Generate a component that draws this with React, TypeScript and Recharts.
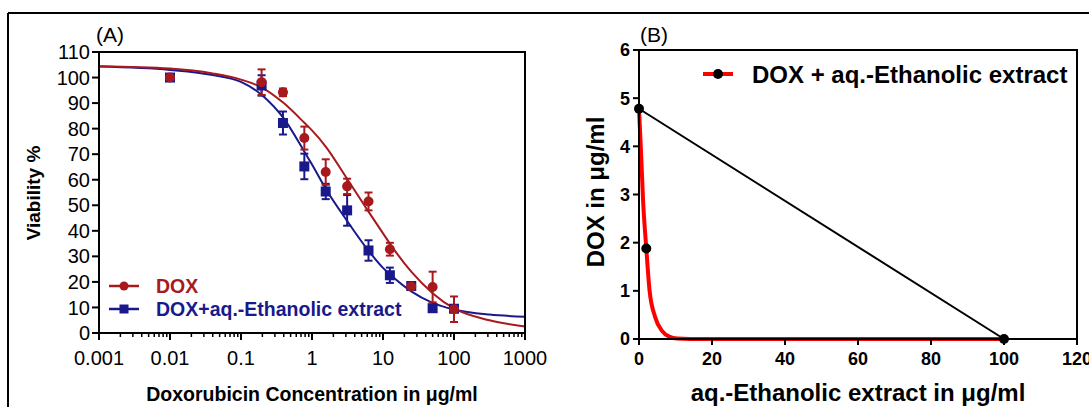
import React from "react";
import {
  ComposedChart,
  Line,
  Scatter,
  XAxis,
  YAxis,
  ErrorBar,
} from "recharts";

const FONT = "'Liberation Sans', Arial, Helvetica, sans-serif";
const RED = "#A8191E";
const BLUE = "#19198C";

// (A) viability, doxorubicin concentrations in µg/ml
const doses = [0.01, 0.195, 0.39, 0.78, 1.56, 3.125, 6.25, 12.5, 25, 50, 100];
const doxMean = [100, 98.2, 94.2, 76.3, 63, 57.4, 51.5, 32.8, 18.2, 18, 9.3];
const doxErr = [0, 5, 1.5, 4.5, 5, 3, 3.5, 2.5, 1, 6, 5];
const comboMean = [100, 96.9, 82.2, 65.2, 55.4, 48, 32.3, 22.6, 18.4, 9.7, 9.5];
const comboErr = [0, 4, 4.5, 5, 3, 6, 4, 3, 1, 1, 0];

// fitted curves
const fitX = [0.001, 0.01, 0.04, 0.1, 0.2, 0.4, 0.78, 1, 1.56, 3.1, 6.25, 10, 12.5, 25, 50, 100, 316, 1000];
const doxFit = [104.4, 103.5, 101.6, 99.2, 96, 90, 82.3, 79.3, 73, 60.5, 47.5, 39, 35, 24, 15.6, 9.6, 5, 2.5];
const comboFit = [104.3, 103, 101, 98.3, 93, 84, 71, 66, 56.5, 44, 32.2, 25.5, 23, 16.3, 11.8, 9.2, 7.2, 6.4];

const decades = [0.001, 0.01, 0.1, 1, 10, 100, 1000];
const viabilityTicks = [0, 10, 20, 30, 40, 50, 60, 70, 80, 90, 100, 110];

// (B) isobologram
const isoPtsX = [0, 2, 100];
const isoPtsY = [4.78, 1.88, 0];
const additiveX = [0, 100];
const additiveY = [4.78, 0];
const isoCurveX = [0, 0.6, 1.1, 2, 2.9, 4.4, 6.3, 8.3, 10.5, 14, 100];
const isoCurveY = [4.78, 3.8, 2.9, 1.88, 1.0, 0.46, 0.17, 0.05, 0.01, 0, 0];
const extractTicks = [0, 20, 40, 60, 80, 100, 120];
const doxTicks = [0, 1, 2, 3, 4, 5, 6];

const zip = (xs: number[], ys: number[], es?: number[]) =>
  xs.map((x, i) => ({ x, y: ys[i], err: es ? es[i] : 0 }));

const doxPts = zip(doses, doxMean, doxErr);
const comboPts = zip(doses, comboMean, comboErr);
const doxCurve = zip(fitX, doxFit);
const comboCurve = zip(fitX, comboFit);

const logTicks: number[] = [];
decades.forEach((d, i) => {
  logTicks.push(d);
  if (i < decades.length - 1) {
    for (let m = 2; m <= 9; m++) logTicks.push(+(d * m).toPrecision(3));
  }
});

// chart sizes / margins
const dimA = { w: 560, h: 407, top: 52, right: 35, bottom: 34, left: 39, yw: 60, xh: 40 };
const dimB = { w: 529, h: 407, top: 50, right: 12, bottom: 28, left: 39, yw: 40, xh: 40 };

// top + right edges of the plot box
const BoxEdges = ({ d }: { d: typeof dimA }) => {
  const x1 = d.left + d.yw;
  const x2 = d.w - d.right;
  const y1 = d.top;
  const y2 = d.h - d.bottom - d.xh;
  return (
    <svg width={d.w} height={d.h} style={{ position: "absolute", left: 0, top: 0, pointerEvents: "none" }}>
      <line x1={x1 - 1} y1={y1} x2={x2 + 1} y2={y1} stroke="#000" strokeWidth={2} />
      <line x1={x2} y1={y1} x2={x2} y2={y2} stroke="#000" strokeWidth={2} />
    </svg>
  );
};

const LogTick = (props: any) => {
  const { x, y, payload } = props;
  const major = decades.includes(payload.value);
  return (
    <g>
      <line x1={x} y1={y} x2={x} y2={y + (major ? 7 : 4)} stroke="#000" strokeWidth={major ? 2 : 1.5} />
      {major && (
        <text x={x} y={y + 32} textAnchor="middle" fontSize={20} fontFamily={FONT} fill="#000">
          {String(payload.value)}
        </text>
      )}
    </g>
  );
};

const axisLine = { stroke: "#000", strokeWidth: 2 };

function PanelA() {
  const d = dimA;
  return (
    <ComposedChart width={d.w} height={d.h} margin={{ top: d.top, right: d.right, bottom: d.bottom, left: d.left }}>
      <XAxis
        dataKey="x"
        type="number"
        scale="log"
        domain={[0.001, 1000]}
        ticks={logTicks}
        interval={0}
        tick={<LogTick />}
        tickSize={0}
        tickMargin={0}
        tickLine={false}
        axisLine={axisLine}
        height={d.xh}
      />
      <YAxis
        type="number"
        domain={[0, 110]}
        ticks={viabilityTicks}
        interval={0}
        width={d.yw}
        tickSize={7}
        tickMargin={2}
        tickLine={axisLine}
        axisLine={axisLine}
        tick={{ fontSize: 20, fill: "#000", fontFamily: FONT }}
      />
      <Line data={comboCurve} dataKey="y" type="monotone" stroke={BLUE} strokeWidth={2} dot={false} isAnimationActive={false} />
      <Line data={doxCurve} dataKey="y" type="monotone" stroke={RED} strokeWidth={2} dot={false} isAnimationActive={false} />
      <Scatter
        data={comboPts}
        dataKey="y"
        isAnimationActive={false}
        shape={(p: any) => <rect x={p.cx - 5} y={p.cy - 5} width={10} height={10} fill={BLUE} />}
      >
        <ErrorBar dataKey="err" direction="y" width={4} stroke={BLUE} strokeWidth={2} isAnimationActive={false} />
      </Scatter>
      <Scatter
        data={doxPts}
        dataKey="y"
        isAnimationActive={false}
        shape={(p: any) => <circle cx={p.cx} cy={p.cy} r={5} fill={RED} />}
      >
        <ErrorBar dataKey="err" direction="y" width={4} stroke={RED} strokeWidth={2} isAnimationActive={false} />
      </Scatter>
    </ComposedChart>
  );
}

function PanelB() {
  const d = dimB;
  const boldTick = { fontSize: 18, fill: "#000", fontFamily: FONT, fontWeight: "bold" as const };
  return (
    <ComposedChart width={d.w} height={d.h} margin={{ top: d.top, right: d.right, bottom: d.bottom, left: d.left }}>
      <XAxis
        dataKey="x"
        type="number"
        domain={[0, 120]}
        ticks={extractTicks}
        interval={0}
        tickSize={6}
        tickMargin={7}
        tickLine={axisLine}
        axisLine={axisLine}
        tick={boldTick}
        height={d.xh}
      />
      <YAxis
        type="number"
        domain={[0, 6]}
        ticks={doxTicks}
        interval={0}
        width={d.yw}
        tickSize={6}
        tickMargin={3}
        tickLine={axisLine}
        axisLine={axisLine}
        tick={boldTick}
      />
      <Line data={zip(isoCurveX, isoCurveY)} dataKey="y" type="monotone" stroke="#FF0000" strokeWidth={4} dot={false} isAnimationActive={false} />
      <Line data={zip(additiveX, additiveY)} dataKey="y" type="linear" stroke="#000" strokeWidth={2} dot={false} isAnimationActive={false} />
      <Scatter
        data={zip(isoPtsX, isoPtsY)}
        dataKey="y"
        isAnimationActive={false}
        shape={(p: any) => <circle cx={p.cx} cy={p.cy} r={5} fill="#000" />}
      />
    </ComposedChart>
  );
}

export default function App() {
  return (
    <div
      style={{
        position: "absolute",
        left: 0,
        top: 0,
        width: 1089,
        height: 407,
        overflow: "hidden",
        background: "#fff",
        fontFamily: FONT,
      }}
    >
      <div style={{ position: "absolute", left: 0, top: 0, width: dimA.w, height: dimA.h }}>
        <PanelA />
        <BoxEdges d={dimA} />
      </div>
      <div style={{ position: "absolute", left: 560, top: 0, width: dimB.w, height: dimB.h }}>
        <PanelB />
        <BoxEdges d={dimB} />
      </div>
      <svg
        width={1089}
        height={407}
        style={{ position: "absolute", left: 0, top: 0, pointerEvents: "none" }}
        fontFamily={FONT}
      >
        {/* outer frame */}
        <line x1={8} y1={13} x2={1089} y2={13} stroke="#000" strokeWidth={2} />
        <line x1={8} y1={13} x2={8} y2={407} stroke="#000" strokeWidth={2} />

        {/* panel A texts */}
        <text x={96} y={42} fontSize={21} fill="#000">(A)</text>
        <text x={312} y={401} fontSize={19.5} fontWeight="bold" textAnchor="middle" fill="#000">
          Doxorubicin Concentration in μg/ml
        </text>
        <text x={40} y={193} fontSize={19} fontWeight="bold" textAnchor="middle" fill="#000" transform="rotate(-90 40 193)">
          Viability %
        </text>
        <line x1={109} y1={286} x2={139} y2={286} stroke={RED} strokeWidth={2.5} />
        <circle cx={124} cy={286} r={4.5} fill={RED} />
        <text x={156} y={293} fontSize={19.5} fontWeight="bold" fill={RED}>DOX</text>
        <line x1={109} y1={309} x2={139} y2={309} stroke={BLUE} strokeWidth={2.5} />
        <rect x={119.5} y={304.5} width={9} height={9} fill={BLUE} />
        <text x={156} y={316} fontSize={19.5} fontWeight="bold" fill={BLUE}>DOX+aq.-Ethanolic extract</text>

        {/* panel B texts */}
        <text x={640} y={42} fontSize={21} fill="#000">(B)</text>
        <text x={858} y={401} fontSize={24} fontWeight="bold" textAnchor="middle" fill="#000">
          aq.-Ethanolic extract in μg/ml
        </text>
        <text x={604} y={192} fontSize={24} fontWeight="bold" textAnchor="middle" fill="#000" transform="rotate(-90 604 192)">
          DOX in μg/ml
        </text>
        <line x1={703} y1={74} x2={733} y2={74} stroke="#FF0000" strokeWidth={4} />
        <circle cx={718} cy={74} r={5} fill="#000" />
        <text x={752} y={83} fontSize={24} fontWeight="bold" fill="#000">DOX + aq.-Ethanolic extract</text>
      </svg>
    </div>
  );
}
